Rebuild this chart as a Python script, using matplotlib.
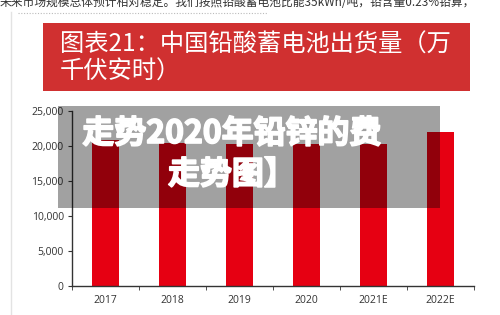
import matplotlib
matplotlib.use('Agg')
import matplotlib.pyplot as plt
import matplotlib.patheffects as pe
from matplotlib.patches import Rectangle
from matplotlib.lines import Line2D

plt.rcParams['font.family'] = ['Noto Sans CJK SC', 'DejaVu Sans']

# data
years = ['2017', '2018', '2019', '2020', '2021E', '2022E']
shipments = [20800, 20400, 20300, 20200, 20300, 21900]
yticks = [0, 5000, 10000, 15000, 20000, 25000]
ytick_labels = ['0', '5,000', '10,000', '15,000', '20,000', '25,000']

title = '图表21：中国铅酸蓄电池出货量（万\n千伏安时）'
top_text = '未来市场规模总体预计相对稳定。我们按照铅酸蓄电池比能35kWh/吨，铅含量0.23%铅算，'
overlay_1 = '走势2020年铅锌的费'
overlay_2 = '走势图】'

W, H = 500, 315


def fx(x):
    return x / W


def fy(y):
    return 1 - y / H


fig = plt.figure(figsize=(5, 3.15), dpi=100)
fig.patch.set_facecolor('white')

# cut-off line of article text at the very top
fig.text(fx(0), fy(3), top_text, fontsize=8.5, color='#333333', va='center', ha='left')
fig.add_artist(Line2D([fx(18), fx(268)], [fy(13), fy(13)], transform=fig.transFigure,
                      color='#bbbbbb', lw=0.8, linestyle=(0, (1, 1.5))))
# left page border
fig.add_artist(Line2D([fx(11), fx(11)], [fy(12), 0], transform=fig.transFigure,
                      color='#e3e3e3', lw=1))

# red title banner
fig.add_artist(Rectangle((fx(43), fy(91)), fx(470) - fx(43), fy(23) - fy(91),
                         transform=fig.transFigure, facecolor='#d03030', edgecolor='none'))
fig.text(fx(60), fy(58), title, fontsize=17.5, color='white', va='center', ha='left',
         linespacing=1.05)

# bar chart
ax = fig.add_axes([fx(72), fy(285.7), fx(474) - fx(72), fy(110.7) - fy(285.7)])
x = range(len(years))
ax.bar(x, shipments, width=0.4, color='#e60012')
ax.set_xlim(-0.5, len(years) - 0.5)
ax.set_ylim(0, 25000)
ax.set_yticks(yticks)
ax.set_yticklabels(ytick_labels, family=['Open Sans', 'DejaVu Sans'])
ax.set_xticks(list(x))
ax.set_xticklabels(years, family=['Open Sans', 'DejaVu Sans'])
ax.set_xticks([i + 0.5 for i in range(-1, len(years))], minor=True)
ax.tick_params(axis='x', which='major', length=0, pad=7, labelsize=7.5, colors='#333333')
ax.tick_params(axis='x', which='minor', length=3, direction='out', color='#333333')
ax.tick_params(axis='y', length=3, direction='out', labelsize=7.5, colors='#333333', pad=3)
for s in ['top', 'right']:
    ax.spines[s].set_visible(False)
for s in ['left', 'bottom']:
    ax.spines[s].set_color('#333333')
    ax.spines[s].set_linewidth(1)

# gray overlay box with watermark text
fig.add_artist(Rectangle((fx(58), fy(208)), fx(440) - fx(58), fy(106) - fy(208),
                         transform=fig.transFigure, facecolor='black', alpha=0.37,
                         edgecolor='none', zorder=5))
stroke = [pe.withStroke(linewidth=1.2, foreground='white')]
fig.text(fx(232), fy(134), overlay_1, fontsize=23, color='white', weight='bold',
         ha='center', va='center', zorder=6, path_effects=stroke)
fig.text(fx(232), fy(175), overlay_2, fontsize=23, color='white', weight='bold',
         ha='center', va='center', zorder=6, path_effects=stroke)

fig.savefig('out.png', dpi=100)
